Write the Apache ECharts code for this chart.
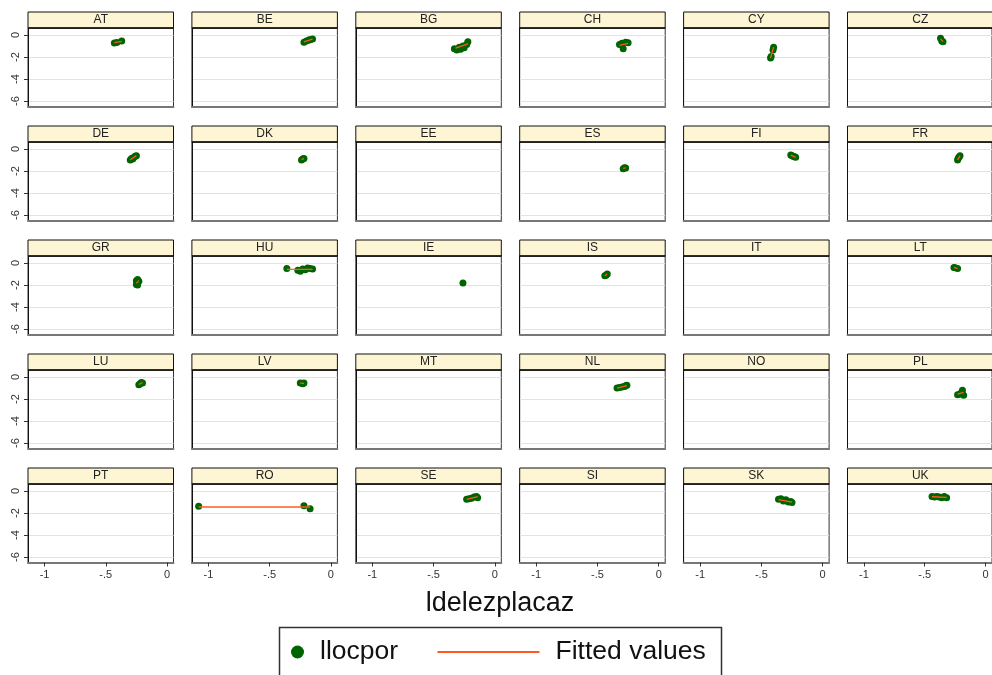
<!DOCTYPE html>
<html>
<head>
<meta charset="utf-8">
<script src="https://cdn.jsdelivr.net/npm/echarts@6/dist/echarts.min.js"></script>
<style>
  html, body { margin: 0; padding: 0; background: #fff; }
  #chart { width: 992px; height: 675px; }
</style>
</head>
<body>
<div id="chart"></div>
<script>
// Panels, in reading order (6 per row)
const countries = ['AT','BE','BG','CH','CY','CZ',
                   'DE','DK','EE','ES','FI','FR',
                   'GR','HU','IE','IS','IT','LT',
                   'LU','LV','MT','NL','NO','PL',
                   'PT','RO','SE','SI','SK','UK'];

// ldelezplacaz (x) per country
const ldelezplacaz = [
  [-0.43, -0.41, -0.37],
  [-0.22, -0.20, -0.18, -0.17, -0.15],
  [-0.33, -0.31, -0.29, -0.28, -0.26, -0.25, -0.23, -0.22],
  [-0.32, -0.30, -0.27, -0.25, -0.29],
  [-0.40, -0.405, -0.42, -0.425],
  [-0.37, -0.36, -0.35],
  [-0.30, -0.29, -0.28, -0.27, -0.26, -0.25],
  [-0.24, -0.23, -0.22],
  [],
  [-0.29, -0.28, -0.27],
  [-0.26, -0.25, -0.24, -0.23, -0.22],
  [-0.23, -0.225, -0.22, -0.21],
  [-0.25, -0.25, -0.24, -0.24, -0.23],
  [-0.36, -0.27, -0.25, -0.23, -0.21, -0.19, -0.17, -0.15],
  [-0.26],
  [-0.44, -0.43, -0.42],
  [],
  [-0.26, -0.25, -0.23],
  [-0.23, -0.22, -0.21, -0.20],
  [-0.25, -0.23, -0.22],
  [],
  [-0.34, -0.32, -0.30, -0.28, -0.27, -0.26],
  [],
  [-0.23, -0.21, -0.20, -0.19, -0.18],
  [],
  [-1.08, -0.22, -0.17],
  [-0.23, -0.21, -0.19, -0.17, -0.15, -0.14],
  [],
  [-0.36, -0.34, -0.32, -0.30, -0.28, -0.26, -0.25],
  [-0.44, -0.42, -0.40, -0.38, -0.36, -0.34, -0.32]
];

// llocpor (y) per country
const llocpor = [
  [-0.72, -0.68, -0.55],
  [-0.65, -0.55, -0.45, -0.42, -0.35],
  [-1.25, -1.35, -1.10, -1.30, -1.00, -1.15, -0.85, -0.60],
  [-0.85, -0.75, -0.65, -0.70, -1.25],
  [-1.10, -1.35, -1.95, -2.10],
  [-0.30, -0.55, -0.60],
  [-1.00, -0.85, -0.90, -0.75, -0.65, -0.60],
  [-1.00, -0.90, -0.85],
  [],
  [-1.80, -1.70, -1.72],
  [-0.55, -0.60, -0.65, -0.70, -0.75],
  [-1.00, -0.85, -0.75, -0.60],
  [-1.60, -1.95, -2.00, -1.50, -1.65],
  [-0.50, -0.65, -0.75, -0.55, -0.60, -0.45, -0.50, -0.55],
  [-1.82],
  [-1.15, -1.10, -1.00],
  [],
  [-0.40, -0.42, -0.50],
  [-0.70, -0.60, -0.50, -0.55],
  [-0.55, -0.60, -0.55],
  [],
  [-1.00, -0.95, -0.90, -0.85, -0.80, -0.75],
  [],
  [-1.60, -1.55, -1.45, -1.20, -1.65],
  [],
  [-1.39, -1.33, -1.60],
  [-0.75, -0.70, -0.65, -0.55, -0.50, -0.60],
  [],
  [-0.75, -0.70, -0.90, -0.80, -1.00, -0.95, -1.05],
  [-0.50, -0.55, -0.50, -0.55, -0.60, -0.50, -0.60]
];

// Fitted values: end points of each country's fitted line
const fitX = [
  [-0.43, -0.37], [-0.22, -0.15], [-0.32, -0.22], [-0.32, -0.25], [-0.425, -0.40], [-0.37, -0.35],
  [-0.30, -0.25], [-0.24, -0.22], [], [-0.29, -0.27], [-0.26, -0.22], [-0.23, -0.21],
  [-0.25, -0.23], [-0.36, -0.15], [], [-0.44, -0.42], [], [-0.26, -0.23],
  [-0.23, -0.20], [-0.25, -0.22], [], [-0.34, -0.26], [], [-0.23, -0.18],
  [], [-1.08, -0.17], [-0.23, -0.14], [], [-0.36, -0.25], [-0.44, -0.32]
];
const fitY = [
  [-0.70, -0.58], [-0.63, -0.37], [-1.20, -0.80], [-0.95, -0.75], [-2.10, -1.10], [-0.35, -0.60],
  [-0.98, -0.60], [-0.98, -0.85], [], [-1.76, -1.71], [-0.55, -0.75], [-0.98, -0.62],
  [-1.85, -1.60], [-0.58, -0.58], [], [-1.15, -1.00], [], [-0.40, -0.50],
  [-0.68, -0.50], [-0.56, -0.57], [], [-1.00, -0.78], [], [-1.55, -1.40],
  [], [-1.45, -1.45], [-0.75, -0.50], [], [-0.78, -1.00], [-0.52, -0.57]
];

const xTicks = [-1, -0.5, 0];
const yTicks = [0, -2, -4, -6];

// Layout of the 6 x 5 panel grid
const NCOL = 6, NROW = 5;
const COL0 = 28, COLSTEP = 163.9, PANEL_W = 145.5;
const ROW0 = 12, ROWSTEP = 114, STRIP_H = 16, PLOT_H = 78.5;

const GREEN = '#006400';
const ORANGE = '#ff5a1f';
const FONT = '"Liberation Sans", Arial, Helvetica, sans-serif';

const grids = [], xAxes = [], yAxes = [], series = [], graphics = [];

countries.forEach((name, i) => {
  const c = i % NCOL, r = Math.floor(i / NCOL);
  const left = COL0 + c * COLSTEP;
  const stripTop = ROW0 + r * ROWSTEP;
  const plotTop = stripTop + STRIP_H;
  const isLeft = c === 0, isBottom = r === NROW - 1;

  grids.push({
    left: left, top: plotTop, width: PANEL_W, height: PLOT_H,
    show: true, borderColor: '#333', borderWidth: 1, backgroundColor: '#fff'
  });

  xAxes.push({
    gridIndex: i, type: 'value', min: -1.135, max: 0.053,
    axisLine: { show: true, onZero: false, lineStyle: { color: '#777', width: 2 } },
    axisTick: { show: isBottom, length: 4, customValues: xTicks, lineStyle: { color: '#333' } },
    axisLabel: {
      show: isBottom, customValues: xTicks, margin: 7,
      fontSize: 11, color: '#333', fontFamily: FONT,
      formatter: v => (v === 0 ? '0' : String(v).replace('0.', '.'))
    },
    splitLine: { show: false }
  });

  yAxes.push({
    gridIndex: i, type: 'value', min: -6.5, max: 0.64,
    axisLine: { show: true, onZero: false, lineStyle: { color: '#111', width: 1 } },
    axisTick: { show: isLeft, length: 4, customValues: yTicks, lineStyle: { color: '#333' } },
    axisLabel: {
      show: isLeft, customValues: yTicks, rotate: 90, margin: 7,
      fontSize: 11, color: '#333', fontFamily: FONT
    },
    splitLine: { show: true, lineStyle: { color: '#e3e3e3', width: 1 } }
  });

  series.push({
    name: 'llocpor', type: 'scatter', xAxisIndex: i, yAxisIndex: i,
    symbol: 'circle', symbolSize: 7,
    itemStyle: { color: GREEN, opacity: 1 },
    data: ldelezplacaz[i].map((x, k) => [x, llocpor[i][k]])
  });

  series.push({
    name: 'Fitted values', type: 'line', xAxisIndex: i, yAxisIndex: i,
    showSymbol: false, symbol: 'none', z: 3,
    itemStyle: { color: ORANGE },
    lineStyle: { color: ORANGE, width: 1.3 },
    data: fitX[i].map((x, k) => [x, fitY[i][k]])
  });

  // Title strip above each panel
  graphics.push({
    type: 'rect', z: 10,
    shape: { x: left, y: stripTop, width: PANEL_W, height: STRIP_H },
    style: { fill: '#fdf5d3', stroke: '#111', lineWidth: 1 }
  });
  graphics.push({
    type: 'line', z: 11,
    shape: { x1: left, y1: plotTop, x2: left + PANEL_W, y2: plotTop },
    style: { stroke: '#111', lineWidth: 1.5 }
  });
  graphics.push({
    type: 'text', z: 12,
    x: left + PANEL_W / 2, y: stripTop + STRIP_H / 2,
    style: {
      text: name, fill: '#222', font: '12px ' + FONT,
      textAlign: 'center', textVerticalAlign: 'middle'
    }
  });
});

// x-axis title and legend frame
graphics.push({
  type: 'text', x: 500, y: 604,
  style: {
    text: 'ldelezplacaz', fill: '#111', font: '27px ' + FONT,
    textAlign: 'center', textVerticalAlign: 'middle'
  }
});
graphics.push({
  type: 'rect',
  shape: { x: 279.5, y: 627.5, width: 442, height: 70 },
  style: { fill: 'none', stroke: '#333', lineWidth: 1.5 }
});

const legendText = { fontSize: 26.5, color: '#111', fontFamily: FONT, lineHeight: 30 };

const chart = echarts.init(document.getElementById('chart'), null, { renderer: 'canvas' });
chart.setOption({
  animation: false,
  backgroundColor: '#fff',
  grid: grids,
  xAxis: xAxes,
  yAxis: yAxes,
  legend: [
    {
      data: [{ name: 'llocpor', icon: 'circle', itemStyle: { color: GREEN, opacity: 1 } }],
      left: 291, top: 637, padding: 0,
      itemWidth: 13, itemHeight: 13,
      textStyle: Object.assign({ padding: [0, 0, 0, 11] }, legendText)
    },
    {
      data: [{ name: 'Fitted values', icon: 'rect', itemStyle: { color: ORANGE } }],
      left: 437.5, top: 637, padding: 0,
      itemWidth: 102, itemHeight: 2,
      textStyle: Object.assign({ padding: [0, 0, 0, 11] }, legendText)
    }
  ],
  graphic: graphics,
  series: series
});
</script>
</body>
</html>
